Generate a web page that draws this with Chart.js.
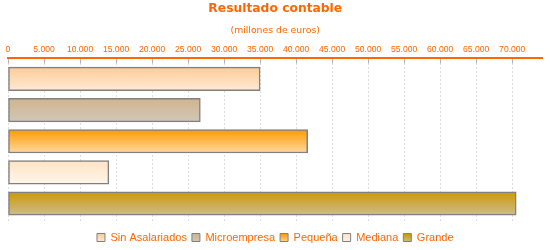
<!DOCTYPE html>
<html><head><meta charset="utf-8">
<script src="https://cdn.jsdelivr.net/npm/chart.js@4.4.1/dist/chart.umd.min.js"></script>
<style>html,body{margin:0;padding:0;background:#fff}canvas{display:block}</style>
</head><body>
<canvas id="c" width="550" height="250"></canvas>
<script>
const categories = ['Sin Asalariados', 'Microempresa', 'Pequeña', 'Mediana', 'Grande'];
const values = [35000, 26700, 41600, 14000, 70550];
const xTicks = [0, 5000, 10000, 15000, 20000, 25000, 30000, 35000, 40000, 45000, 50000, 55000, 60000, 65000, 70000];
const colorTop = ['#FFCB96', '#D1B48E', '#FF9900', '#FFE3C2', '#CC9900'];
const colorBottom = ['#FFEAD6', '#D0C7B8', '#FFD9A0', '#FFF6EC', '#CDBC92'];

const ORANGE = '#FF6600';
const fmt = v => String(v).replace(/\B(?=(\d{3})+(?!\d))/g, '.');

function barGradient(ctx) {
  const i = ctx.dataIndex;
  if (i === undefined) return colorTop[0];
  const chart = ctx.chart;
  const ys = chart.scales.y;
  if (!chart.chartArea || !ys) return colorTop[i];
  const c = ys.getPixelForValue(i);
  const g = chart.ctx.createLinearGradient(0, c - 12, 0, c + 12);
  g.addColorStop(0, colorTop[i]);
  g.addColorStop(1, colorBottom[i]);
  return g;
}

const legendFix = {
  id: 'legendFix',
  beforeInit(chart) {
    const lg = chart.legend;
    if (!lg) return;
    const orig = lg.fit;
    lg.fit = function () { orig.call(this); this.height = 28.3; };
  },
  beforeDraw(chart) {
    const lg = chart.legend;
    if (!lg || !lg.legendItems) return;
    const cy = lg.top + 16.3;
    lg.legendItems.forEach((it, i) => {
      const g = chart.ctx.createLinearGradient(0, cy - 4, 0, cy + 4);
      g.addColorStop(0, colorTop[i]);
      g.addColorStop(1, colorBottom[i]);
      it.fillStyle = g;
    });
  }
};

const tickMarks = {
  id: 'tickMarks',
  afterDraw(chart) {
    const xs = chart.scales.x, c = chart.ctx, top = chart.chartArea.top;
    c.save();
    c.strokeStyle = '#b0b0b0';
    c.lineWidth = 1;
    xs.ticks.forEach(t => {
      const px = Math.round(xs.getPixelForValue(t.value)) + 0.5;
      c.beginPath(); c.moveTo(px, top + 1); c.lineTo(px, top + 5); c.stroke();
    });
    c.restore();
  }
};

new Chart(document.getElementById('c'), {
  type: 'bar',
  data: {
    labels: categories,
    datasets: [{
      data: values.map((v, i) => ({ x: v, y: i })),
      backgroundColor: barGradient,
      borderColor: '#808080',
      borderWidth: 1.5,
      borderSkipped: false,
      barThickness: 23.5
    }]
  },
  plugins: [legendFix, tickMarks],
  options: {
    indexAxis: 'y',
    responsive: false,
    animation: false,
    devicePixelRatio: 1,
    layout: { padding: { left: 8, right: 7.5, top: 0, bottom: 0 } },
    scales: {
      x: {
        type: 'linear',
        position: 'top',
        min: 0,
        max: 74200,
        afterBuildTicks: s => { s.ticks = xTicks.map(v => ({ value: v })); },
        ticks: {
          color: ORANGE,
          font: { family: 'Liberation Sans', size: 8.6 },
          padding: 3.8,
          autoSkip: false,
          maxRotation: 0,
          callback: v => fmt(v)
        },
        grid: { color: '#dcdcdc', lineWidth: 1, drawTicks: false },
        border: { color: ORANGE, width: 2, dash: [2, 2] }
      },
      y: {
        type: 'linear',
        display: false,
        reverse: true,
        offset: false,
        min: -0.665,
        max: 4.583
      }
    },
    plugins: {
      title: {
        display: true,
        text: 'Resultado contable',
        color: ORANGE,
        font: { family: 'DejaVu Sans', size: 12.3, weight: 'bold', lineHeight: 1.2 },
        padding: { top: 1.6, bottom: 0 }
      },
      subtitle: {
        display: true,
        text: '(millones de euros)',
        color: ORANGE,
        font: { family: 'DejaVu Sans', size: 9.3, lineHeight: 1.2 },
        padding: { top: 8.6, bottom: 4.2 }
      },
      legend: {
        display: true,
        position: 'bottom',
        title: { display: true, text: '', font: { size: 5.3, lineHeight: 1 }, padding: 0 },
        labels: {
          color: ORANGE,
          font: { family: 'Liberation Sans', size: 11 },
          boxWidth: 8,
          boxHeight: 8,
          padding: 5,
          generateLabels: () => categories.map((name, i) => ({
            text: name,
            fillStyle: colorTop[i],
            strokeStyle: '#808080',
            lineWidth: 1,
            fontColor: ORANGE,
            hidden: false,
            index: i
          }))
        }
      },
      tooltip: { enabled: false }
    }
  }
});
</script>
</body></html>
